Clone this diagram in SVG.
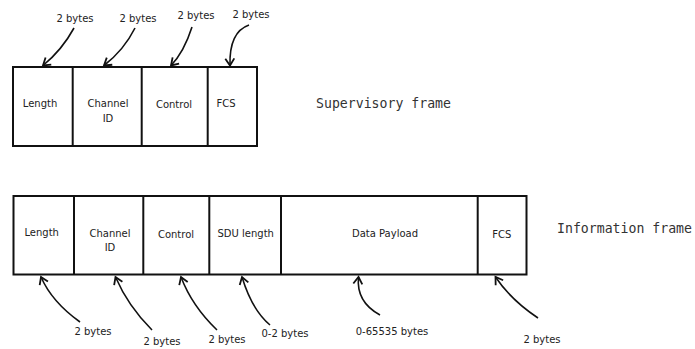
<svg xmlns="http://www.w3.org/2000/svg" width="695" height="349" viewBox="0 0 695 349">
  <style>
    .box { fill: #fff; stroke: #111; stroke-width: 2; }
    .div { stroke: #111; stroke-width: 2; }
    .lbl { font-family: "DejaVu Sans", sans-serif; font-size: 10px; fill: #222; text-anchor: middle; }
    .title { font-family: "DejaVu Sans Mono", monospace; font-size: 13.2px; fill: #333; }
    .arr { fill: none; stroke: #111; stroke-width: 1.6; marker-end: url(#head); }
  </style>
  <defs>
    <marker id="head" markerUnits="userSpaceOnUse" markerWidth="14" markerHeight="14" refX="0" refY="0" viewBox="-9 -7 10 14" orient="auto" overflow="visible">
      <path d="M-7,-4.5 L0,0 L-7,4.5" fill="none" stroke="#111" stroke-width="1.8"/>
    </marker>
  </defs>
  <rect width="695" height="349" fill="#fff"/>

  <!-- Supervisory frame -->
  <g id="supervisory-frame">
    <rect class="box" x="13" y="67" width="244" height="79"/>
    <line class="div" x1="72.7" y1="67" x2="72.7" y2="146"/>
    <line class="div" x1="141.7" y1="67" x2="141.7" y2="146"/>
    <line class="div" x1="207.7" y1="67" x2="207.7" y2="146"/>
    <text class="lbl" x="40" y="107">Length</text>
    <text class="lbl" x="108" y="107">Channel</text>
    <text class="lbl" x="108" y="122">ID</text>
    <text class="lbl" x="174" y="108">Control</text>
    <text class="lbl" x="226" y="107">FCS</text>
    <text class="title" x="316" y="108">Supervisory frame</text>
  </g>

  <!-- Information frame -->
  <g id="information-frame">
    <rect class="box" x="13.5" y="196" width="513" height="78.5"/>
    <line class="div" x1="74" y1="196" x2="74" y2="274.5"/>
    <line class="div" x1="143.3" y1="196" x2="143.3" y2="274.5"/>
    <line class="div" x1="209.3" y1="196" x2="209.3" y2="274.5"/>
    <line class="div" x1="281" y1="196" x2="281" y2="274.5"/>
    <line class="div" x1="477.7" y1="196" x2="477.7" y2="274.5"/>
    <text class="lbl" x="41.7" y="236">Length</text>
    <text class="lbl" x="110" y="237">Channel</text>
    <text class="lbl" x="110" y="251">ID</text>
    <text class="lbl" x="176" y="238">Control</text>
    <text class="lbl" x="245.7" y="237">SDU length</text>
    <text class="lbl" x="385" y="237">Data Payload</text>
    <text class="lbl" x="501.7" y="238">FCS</text>
    <text class="title" x="557" y="233">Information frame</text>
  </g>

  <!-- Size annotations -->
  <g id="connectors">
    <path class="arr" d="M74,28 Q62,50 43,65.5"/>
    <path class="arr" d="M135,28 Q124,50 104,65.5"/>
    <path class="arr" d="M192,27 Q184,52 171,65.5"/>
    <path class="arr" d="M249,25 Q229,32 230,65.5"/>

    <path class="arr" d="M80,322 Q52,302 41,277"/>
    <path class="arr" d="M152,330 Q128,306 115.5,277"/>
    <path class="arr" d="M217,330 Q192,306 181,277"/>
    <path class="arr" d="M270,325 Q252,310 242,277"/>
    <path class="arr" d="M380,315 Q356,302 358.5,277"/>
    <path class="arr" d="M538,318 Q511,300 495.5,277"/>
  </g>

  <g id="size-labels">
    <text class="lbl" x="75" y="22">2 bytes</text>
    <text class="lbl" x="138" y="22">2 bytes</text>
    <text class="lbl" x="196" y="19">2 bytes</text>
    <text class="lbl" x="251" y="18">2 bytes</text>
    <text class="lbl" x="93" y="335">2 bytes</text>
    <text class="lbl" x="162" y="345">2 bytes</text>
    <text class="lbl" x="227" y="343">2 bytes</text>
    <text class="lbl" x="285" y="337">0-2 bytes</text>
    <text class="lbl" x="392" y="335">0-65535 bytes</text>
    <text class="lbl" x="542" y="343">2 bytes</text>
  </g>
</svg>
